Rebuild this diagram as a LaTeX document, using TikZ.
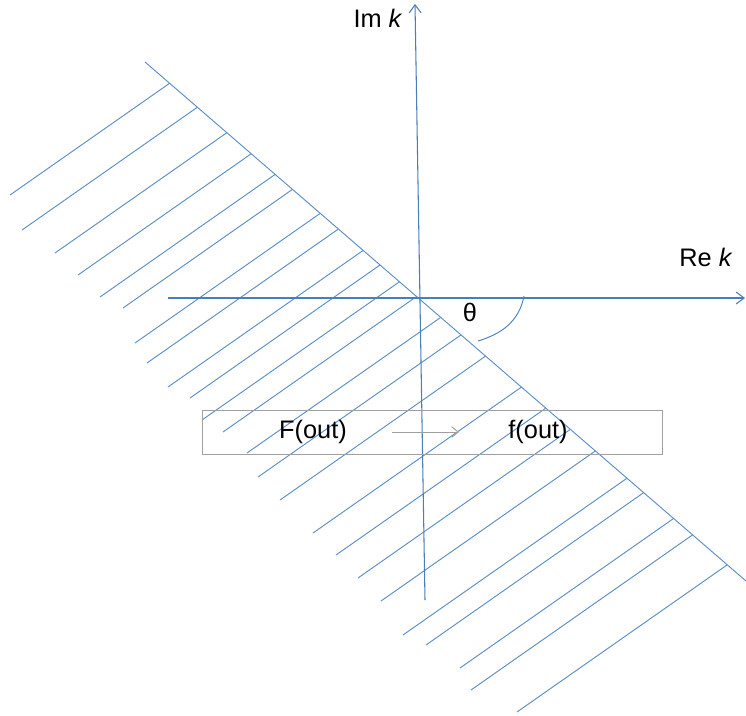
\documentclass[tikz,border=0pt]{standalone}
\usepackage{fontspec}
\setmainfont{Liberation Sans}
\usetikzlibrary{arrows.meta,calc}
\definecolor{lineblue}{HTML}{4A7EBB}
\definecolor{hatchblue}{HTML}{5B8EC4}
\definecolor{boxgray}{HTML}{A0A0A0}
\begin{document}
\begin{tikzpicture}[x=0.75pt,y=-0.75pt,
  hatch/.style={draw=hatchblue,line width=0.7pt},
  axis/.style={draw=lineblue,line width=0.8pt,-{Straight Barb[length=6pt,width=9pt]}},
  lbl/.style={font=\fontsize{19}{22}\selectfont,inner sep=0pt},
  framebox/.style={draw=boxgray,line width=0.7pt}]
\useasboundingbox (0,0) rectangle (746,715);
% boundary line
\coordinate (D1) at (145,62);
\coordinate (D2) at (746,581);
% hatching
\foreach \hx/\hy in {10/195,22/230,55/253,78/275,100/297,123/308,135/343,147/363,168/387,190/398,202/420,223/432,247/453,258/477,280/500,313/533,336/555,358/578,381/601,403/635,426/645,460/668,471/690,517/712}{
  \coordinate (hp) at (\hx,\hy);
  \coordinate (hq) at ($(hp)+(100,-70)$);
  \draw[hatch] (hp) -- (intersection of hp--hq and D1--D2);
}
\draw[hatch] (D1) -- (D2);
% axes
\coordinate (O) at (420,298);
\coordinate (xs) at (168,298);
\coordinate (xe) at (745,298);
\coordinate (ys) at (425,600);
\coordinate (ye) at (415,4);
\draw[axis] (xs) -- (xe);
\draw[axis] (ys) -- (ye);
% angle arc
\coordinate (a1) at (524,296);
\coordinate (a2) at (478,341);
\draw[draw=lineblue,line width=0.7pt] (a1) .. controls (519,322) and (501,334) .. (a2);
% labels
\node[lbl] (imk) at (378,18) {Im \textit{k}};
\node[lbl] (rek) at (706,257) {Re \textit{k}};
\node[lbl] (th) at (470,312) {θ};
% box
\node[framebox,minimum width=460*0.75pt,minimum height=44*0.75pt,inner sep=0pt] (bx) at (432,432) {};
\node[lbl] (F) at (313,432) {F(out)};
\node[lbl] (f) at (538,432) {f(out)};
\coordinate (ars) at (392,432);
\coordinate (are) at (459,432);
\draw[draw=boxgray,line width=0.7pt,-{Straight Barb[length=5pt,width=8pt]}] (ars) -- (are);
\end{tikzpicture}
\end{document}
